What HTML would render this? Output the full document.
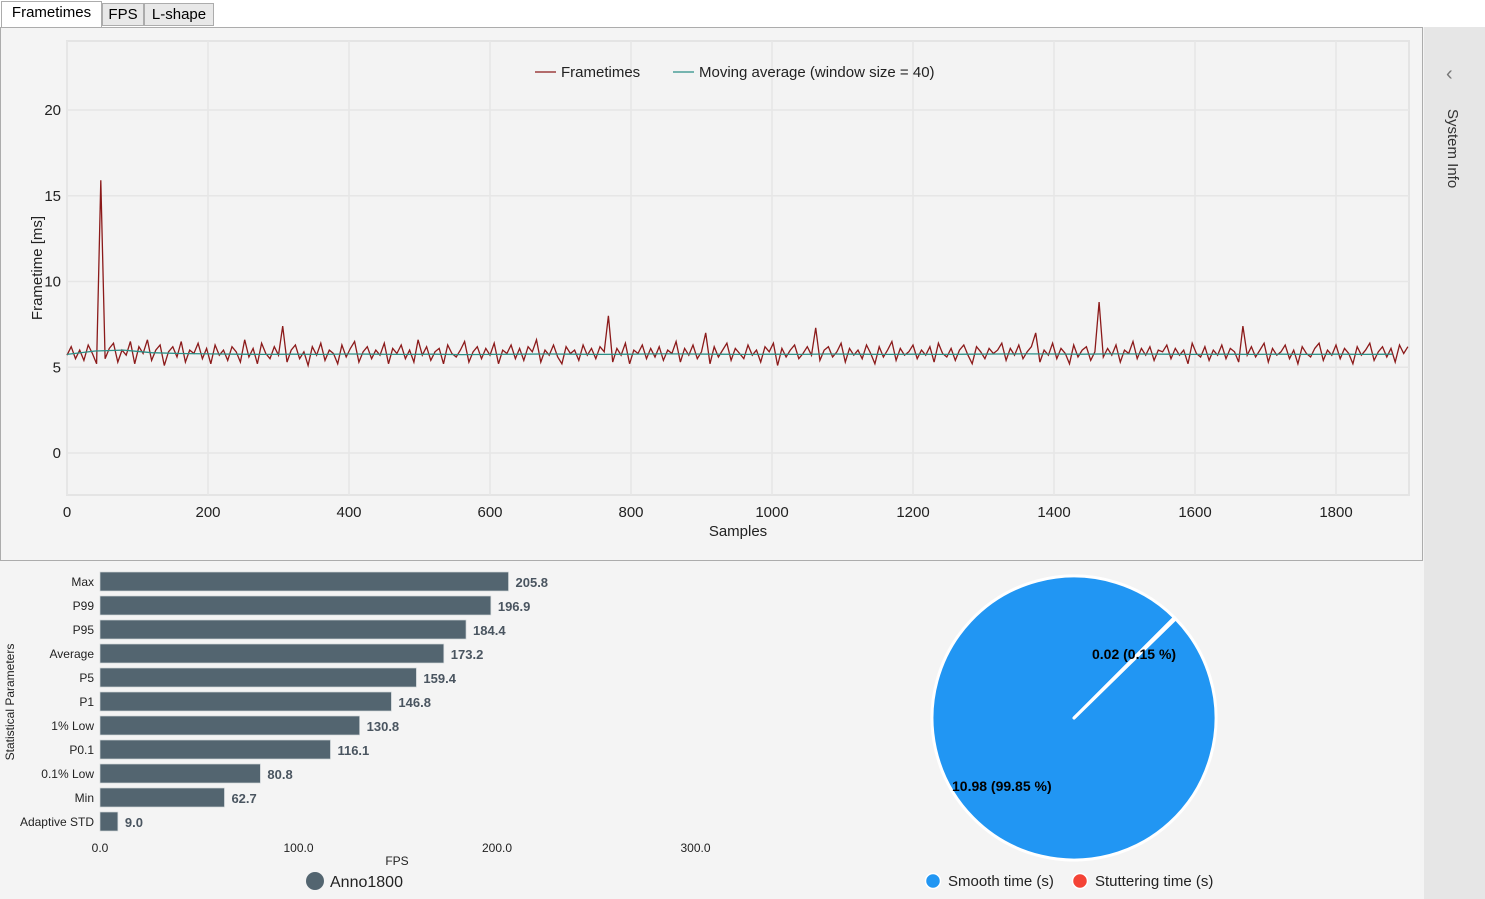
<!DOCTYPE html>
<html><head><meta charset="utf-8"><style>
body{margin:0;width:1485px;height:899px;background:#f4f4f4;font-family:"Liberation Sans",sans-serif;position:relative;overflow:hidden}
.tab{position:absolute;top:3px;height:23px;border:1px solid #acacac;background:#e8e8e8;font-size:15px;line-height:22px;text-align:center;box-sizing:border-box}
</style></head><body>
<div style="position:absolute;left:0;top:0;width:1485px;height:27px;background:#fff"></div>
<div class="tab" style="left:1px;top:1px;height:27px;width:101px;background:#fff;border-bottom:none">Frametimes</div>
<div class="tab" style="left:102px;width:42px">FPS</div>
<div class="tab" style="left:144px;width:70px">L-shape</div>
<div style="position:absolute;left:0;top:27px;width:1423px;height:534px;border:1px solid #acacac;box-sizing:border-box;background:#f4f4f4"></div>
<div style="position:absolute;left:1424px;top:27px;width:61px;height:872px;background:#e6e6e6">
<div style="position:absolute;left:22px;top:36px;font-size:20px;color:#777">&#8249;</div>
<div style="position:absolute;left:20px;top:82px;writing-mode:vertical-rl;font-size:15px;color:#333">System Info</div>
</div>
<svg id="ft" width="1485" height="899" style="position:absolute;left:0;top:0" font-family="Liberation Sans, sans-serif"></svg>
<script>
const ftValues=[57,62,55,60,54,63,58,52,159,55,61,64,53,60,57,65,52,62,58,66,
54,60,63,51,59,62,56,65,53,60,58,64,55,61,52,63,57,60,54,62,
59,53,66,56,61,52,64,58,55,62,57,74,53,60,63,55,59,51,62,57,
64,54,60,58,52,63,56,61,65,53,59,62,55,60,57,64,52,61,58,63,
55,60,53,66,57,62,54,59,61,52,63,58,56,60,65,53,59,62,55,61,
57,64,52,60,58,63,55,61,54,62,59,66,53,60,57,63,56,52,62,58,
60,54,63,57,61,55,62,59,80,53,61,57,64,52,60,58,63,55,61,56,
62,54,60,58,65,53,61,57,63,55,59,70,52,62,56,60,64,54,61,58,
55,63,57,60,53,62,59,64,51,61,56,60,63,55,58,62,57,73,54,60,
62,56,59,64,53,61,57,60,55,63,58,52,62,56,60,65,54,61,57,59,
63,55,60,57,62,53,64,58,56,61,54,60,63,57,52,62,59,55,61,58,
60,64,54,61,57,63,55,59,62,70,53,60,57,64,55,61,58,52,63,56,
60,62,54,59,88,56,61,57,63,53,60,58,65,55,61,57,62,54,60,59,
63,55,61,57,60,52,64,58,56,62,54,60,57,63,55,61,59,53,74,57,
62,56,60,64,53,61,57,59,63,55,60,52,62,58,56,61,64,54,60,57,
63,55,61,58,52,62,57,60,64,54,59,62,56,61,53,63,58,62];
const ftStep=6;
const maValues=[5.75,5.95,6.0,5.85,5.8,5.78,5.76,5.75,5.76,5.75,5.77,5.76,5.75,5.76,5.74,5.75,5.76,5.77,5.76,5.75,5.76,5.78,5.77,5.76,5.75,5.76,5.75,5.77,5.76,5.75,5.76,5.75,5.76,5.77,5.78,5.77,5.76,5.78,5.77,5.76,5.75,5.76,5.75,5.76,5.75,5.76,5.75,5.76];
const maStep=40;
const xTicks=[0,200,400,600,800,1000,1200,1400,1600,1800];
const yTicks=[0,5,10,15,20];
const barCats=["Max","P99","P95","Average","P5","P1","1% Low","P0.1","0.1% Low","Min","Adaptive STD"];
const barVals=[205.8,196.9,184.4,173.2,159.4,146.8,130.8,116.1,80.8,62.7,9.0];
const barTicks=[0,100,200,300];
const pieLabels=["Smooth time (s)","Stuttering time (s)"];
const pieVals=[10.98,0.02];
const pieColors=["#2196f3","#f44336"];

const svg=document.getElementById('ft');const NS='http://www.w3.org/2000/svg';
function el(t,a,p){const e=document.createElementNS(NS,t);for(const k in a)e.setAttribute(k,a[k]);(p||svg).appendChild(e);return e;}
const X0=67,X1=1409,Y0=41,Y1=495;
const sx=v=>X0+v*(208-67)/200;
const sy=v=>453-v*(453-110)/20;
let r=el('rect',{x:X0,y:Y0,width:X1-X0,height:Y1-Y0,fill:'#f3f3f3',stroke:'#e4e4e4','stroke-width':2});


xTicks.forEach(t=>{let l=el('line',{x1:sx(t),x2:sx(t),y1:Y0,y2:Y1,stroke:'#e6e6e6','stroke-width':1.5});


let tx=el('text',{x:sx(t),y:517,'text-anchor':'middle','font-size':15,fill:'#222'});tx.textContent=t;

});
yTicks.forEach(t=>{let l=el('line',{x1:X0,x2:X1,y1:sy(t),y2:sy(t),stroke:'#e6e6e6','stroke-width':1.5});


let tx=el('text',{x:61,y:sy(t)+5,'text-anchor':'end','font-size':15,fill:'#222'});tx.textContent=t;

});
let xt=el('text',{x:738,y:536,'text-anchor':'middle','font-size':15,fill:'#222'});xt.textContent='Samples';


let yt=el('text',{x:42,y:268,'text-anchor':'middle','font-size':15,fill:'#222',transform:'rotate(-90 42 268)'});yt.textContent='Frametime [ms]';


let p=ftValues.map((v,i)=>(i?'L':'M')+sx(i*ftStep).toFixed(1)+','+sy(v/10).toFixed(1)).join('');
let fl=el('path',{d:p,fill:'none',stroke:'#8b1a1a','stroke-width':1.3});


let pm=maValues.map((v,i)=>(i?'L':'M')+sx(i*maStep).toFixed(1)+','+sy(v).toFixed(1)).join('');
let ml=el('path',{d:pm,fill:'none',stroke:'#2a8f86','stroke-width':1.3});


let g=el('g',{});


el('line',{x1:535,x2:556,y1:72,y2:72,stroke:'#8b1a1a','stroke-width':1.3},g);
let a=el('text',{x:561,y:77,'font-size':15,fill:'#222'},g);a.textContent='Frametimes';
el('line',{x1:673,x2:694,y1:72,y2:72,stroke:'#2a8f86','stroke-width':1.3},g);
let b=el('text',{x:699,y:77,'font-size':15,fill:'#222'},g);b.textContent='Moving average (window size = 40)';
// bar chart
const bx=v=>100+v*(497-100)/200;
barTicks.forEach(t=>{let tx=el('text',{x:bx(t),y:852,'text-anchor':'middle','font-size':12,fill:'#222'});tx.textContent=t.toFixed(1);

});
barCats.forEach((c,i)=>{const y=572+i*24;
let rr=el('rect',{x:100,y:y,width:bx(barVals[i])-100,height:19,fill:'#536570',stroke:'#d0d6d9','stroke-width':0.7});


let l=el('text',{x:94,y:y+14,'text-anchor':'end','font-size':12,fill:'#222'});l.textContent=c;


let v=el('text',{x:bx(barVals[i])+7,y:y+15,'font-size':13,'font-weight':'bold',fill:'#4a5560'});v.textContent=barVals[i].toFixed(1);

});
let fp=el('text',{x:397,y:865,'text-anchor':'middle','font-size':12,fill:'#222'});fp.textContent='FPS';


let sp=el('text',{x:14,y:702,'text-anchor':'middle','font-size':12,fill:'#222',transform:'rotate(-90 14 702)'});sp.textContent='Statistical Parameters';


let bl=el('g',{});


el('circle',{cx:315,cy:881,r:9,fill:'#536570'},bl);
let bt=el('text',{x:330,y:887,'font-size':16,fill:'#222'},bl);bt.textContent='Anno1800';
// pie
const cx=1074,cy=718,R=142;const tot=pieVals.reduce((s,v)=>s+v,0);
let ang0=45*Math.PI/180+ (pieVals[1]/tot)*2*Math.PI;
let ang=ang0;
pieVals.forEach((v,i)=>{const da=v/tot*2*Math.PI;const a1=ang,a2=ang+da;
const p1=[cx+R*Math.sin(a1),cy-R*Math.cos(a1)],p2=[cx+R*Math.sin(a2),cy-R*Math.cos(a2)];
let s=el('path',{d:`M${cx},${cy}L${p1[0]},${p1[1]}A${R},${R} 0 ${da>Math.PI?1:0} 1 ${p2[0]},${p2[1]}Z`,fill:pieColors[i],stroke:'#fff','stroke-width':3,'stroke-linejoin':'round'});


ang=a2;});
let l1=el('text',{x:952,y:791,'font-size':14,'font-weight':'bold',fill:'#000'});l1.textContent=pieVals[0].toFixed(2)+' (99.85 %)';


let l2=el('text',{x:1092,y:659,'font-size':14,'font-weight':'bold',fill:'#000'});l2.textContent=pieVals[1].toFixed(2)+' (0.15 %)';


let pl=el('g',{});


[[933,948],[1080,1095]].forEach((xx,i)=>{el('circle',{cx:xx[0],cy:881,r:7.5,fill:pieColors[i],stroke:'#fff','stroke-width':1.5},pl);
let t=el('text',{x:xx[1],y:886,'font-size':15,fill:'#222'},pl);t.textContent=pieLabels[i];});
</script>
</body></html>
